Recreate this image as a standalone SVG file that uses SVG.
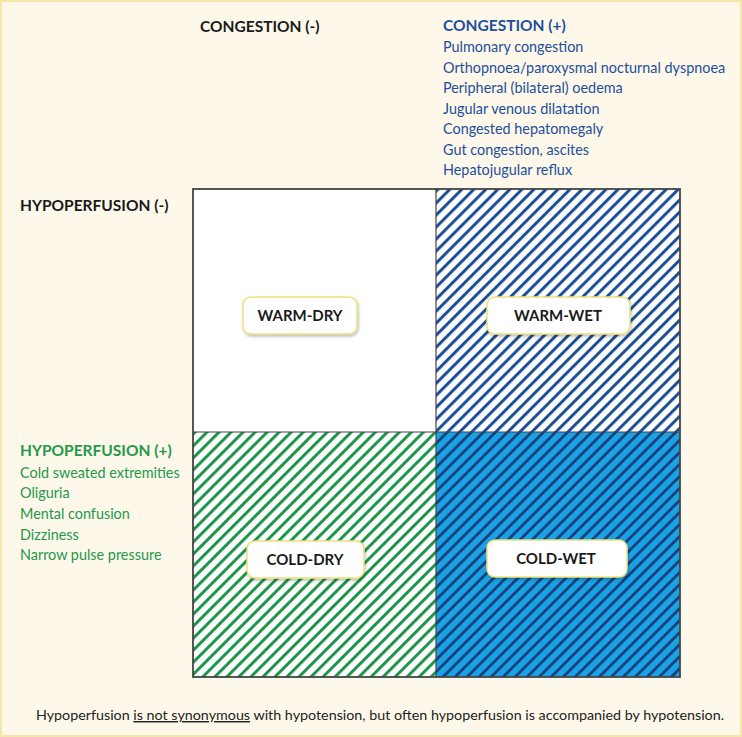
<svg xmlns="http://www.w3.org/2000/svg" width="742" height="737" viewBox="0 0 742 737">
<defs>
<pattern id="hBlue" patternUnits="userSpaceOnUse" width="8.5" height="8.5" patternTransform="rotate(45)">
<rect width="8.5" height="8.5" fill="#ffffff"/>
<rect x="0" y="0" width="3" height="8.5" fill="#1c4f93"/>
</pattern>
<pattern id="hGreen" patternUnits="userSpaceOnUse" width="8.5" height="8.5" patternTransform="rotate(45)">
<rect width="8.5" height="8.5" fill="#ffffff"/>
<rect x="0" y="0" width="3" height="8.5" fill="#1e944a"/>
</pattern>
<pattern id="hCyan" patternUnits="userSpaceOnUse" width="8.5" height="8.5" patternTransform="rotate(45)">
<rect width="8.5" height="8.5" fill="#19a3e4"/>
<rect x="0" y="0" width="2.8" height="8.5" fill="#17407e"/>
</pattern>
<filter id="sh" x="-10%" y="-20%" width="120%" height="150%">
<feDropShadow dx="1" dy="2" stdDeviation="1.5" flood-color="#000" flood-opacity="0.25"/>
</filter>
</defs>
<style>
text{font-family:"Lato","Open Sans","Liberation Sans",sans-serif;}
.hd{font-size:15.5px;font-weight:bold;}
.li{font-size:14.4px;}
.blue{fill:#1f4f9c;}
.green{fill:#23994a;}
.blk{fill:#1a1a1a;}
.lbl{fill:#ffffff;stroke:#f0df78;stroke-width:1.5;filter:url(#sh);}
.lt{font-size:15px;font-weight:bold;fill:#1a1a1a;text-anchor:middle;}
.foot{font-size:14.3px;fill:#222;text-anchor:middle;}
</style>
<rect x="0" y="0" width="742" height="737" fill="#fdf8ea"/>
<rect x="1" y="1" width="740" height="735" fill="none" stroke="#f6e7a6" stroke-width="2"/>

<g id="header-congestion-neg">
<text class="hd blk" x="200" y="32">CONGESTION (-)</text>
</g>
<g id="header-congestion-pos">
<text class="hd blue" x="443" y="31">CONGESTION (+)</text>
<text class="li blue" x="443" y="52">Pulmonary congestion</text>
<text class="li blue" x="443" y="73">Orthopnoea/paroxysmal nocturnal dyspnoea</text>
<text class="li blue" x="443" y="93">Peripheral (bilateral) oedema</text>
<text class="li blue" x="443" y="114">Jugular venous dilatation</text>
<text class="li blue" x="443" y="134">Congested hepatomegaly</text>
<text class="li blue" x="443" y="155">Gut congestion, ascites</text>
<text class="li blue" x="443" y="175">Hepatojugular reflux</text>
</g>
<g id="header-hypoperfusion-neg">
<text class="hd blk" x="20" y="211">HYPOPERFUSION (-)</text>
</g>
<g id="header-hypoperfusion-pos">
<text class="hd green" x="20" y="456">HYPOPERFUSION (+)</text>
<text class="li green" x="20" y="478">Cold sweated extremities</text>
<text class="li green" x="20" y="498">Oliguria</text>
<text class="li green" x="20" y="519">Mental confusion</text>
<text class="li green" x="20" y="540">Dizziness</text>
<text class="li green" x="20" y="560">Narrow pulse pressure</text>
</g>

<g id="quadrants">
<rect x="193" y="189" width="243" height="243" fill="#ffffff"/>
<rect x="436" y="189" width="244" height="243" fill="url(#hBlue)"/>
<rect x="193" y="432" width="243" height="245" fill="url(#hGreen)"/>
<rect x="436" y="432" width="244" height="245" fill="url(#hCyan)"/>
<rect x="193" y="189" width="487" height="488" fill="none" stroke="#444" stroke-width="1.8"/>
<line x1="436" y1="189" x2="436" y2="677" stroke="#444" stroke-width="1.2"/>
<line x1="193" y1="432" x2="680" y2="432" stroke="#444" stroke-width="1.2"/>
</g>

<g id="warm-dry">
<rect class="lbl" x="243" y="297" width="114" height="37" rx="8"/>
<text class="lt" x="300" y="321">WARM-DRY</text>
</g>
<g id="warm-wet">
<rect class="lbl" x="487" y="297" width="143" height="37" rx="8"/>
<text class="lt" x="558" y="321">WARM-WET</text>
</g>
<g id="cold-dry">
<rect class="lbl" x="247" y="541" width="117" height="37" rx="8"/>
<text class="lt" x="305" y="565">COLD-DRY</text>
</g>
<g id="cold-wet">
<rect class="lbl" x="487" y="540" width="140" height="37" rx="8"/>
<text class="lt" x="556" y="564">COLD-WET</text>
</g>

<g id="footnote">
<text class="foot" x="380" y="720">Hypoperfusion <tspan text-decoration="underline">is not synonymous</tspan> with hypotension, but often hypoperfusion is accompanied by hypotension.</text>
</g>
<g id="connectors"></g>
</svg>
